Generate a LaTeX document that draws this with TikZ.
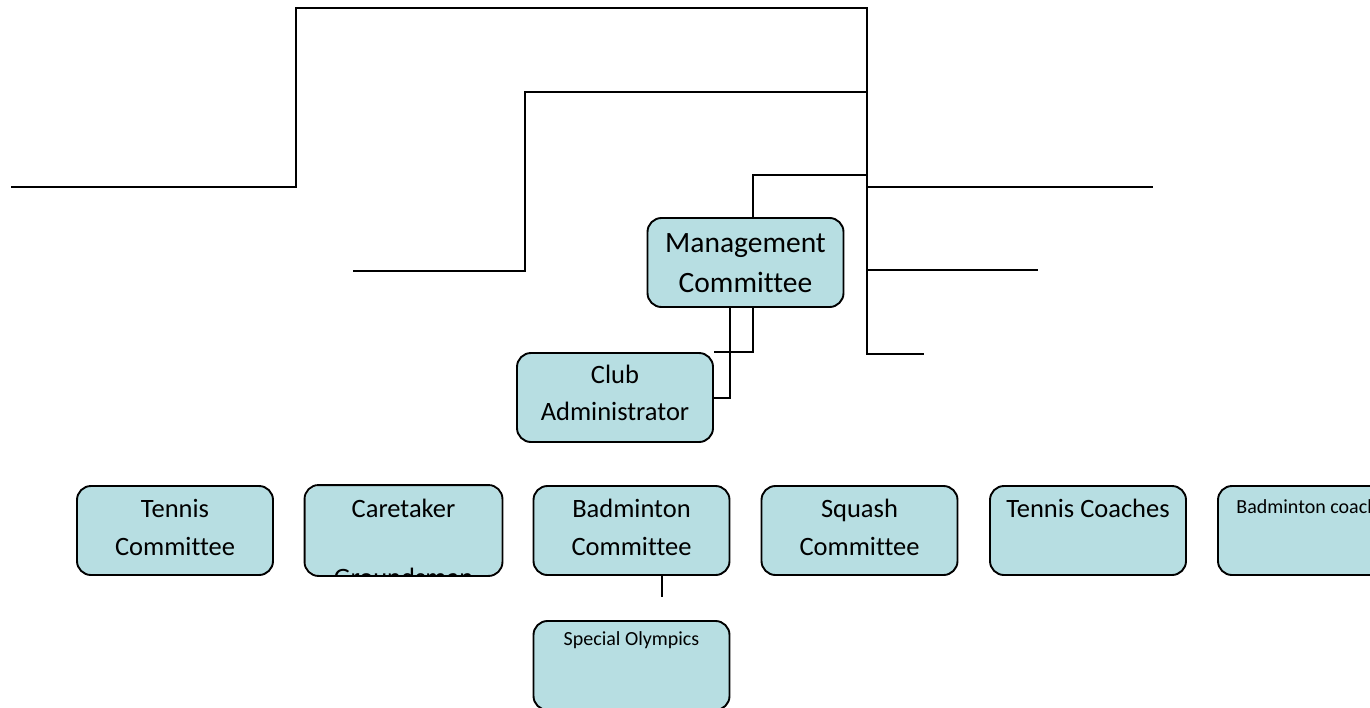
\documentclass[tikz,border=0pt]{standalone}
\usepackage{fontspec}
\setmainfont{Carlito}[Ligatures=NoCommon]
\usetikzlibrary{calc}
\definecolor{boxfill}{RGB}{183,222,226}
\begin{document}
\begin{tikzpicture}[x=1pt,y=-1pt,
  wire/.style={draw=black, line width=2pt},
  box/.style={draw=black, line width=1.9pt, fill=boxfill, rounded corners=14pt,
    minimum width=196pt, minimum height=89pt, inner sep=0pt},
  lbl/.style={inner sep=0pt, align=center, anchor=base},
  big/.style={font=\fontsize{29.5}{40}\selectfont},
  mid/.style={font=\fontsize{26.5}{37}\selectfont},
  std/.style={font=\fontsize{26.5}{38}\selectfont},
  small/.style={font=\fontsize{20}{26}\selectfont}]
\useasboundingbox (0,0) rectangle (1370,707);

% free ends of the upper wiring
\coordinate (w1) at (11,186.5);
\coordinate (w2) at (353,270.5);
\coordinate (e1) at (1153,186.5);
\coordinate (e2) at (1038,270);
\coordinate (e3) at (924,354);
\coordinate (sptop) at (866.5,7.5);
\coordinate (spbot) at (866.5,354);

% upper wiring
\draw[wire] (w1) -- (296,186.5) -- (296,7.5) -- (sptop) -- (spbot) -- (e3);
\draw[wire] (w2) -- (525,270.5) -- (525,92) -- (866.5,92);
\draw[wire] (866.5,186.5) -- (e1);
\draw[wire] (866.5,270) -- (e2);

% boxes
\node[box] (mc)  at (745.5,262.5) {};
\node[box] (ca)  at (615,397.5) {};
\node[box] (tc)  at (175,530.5) {};
\node[box, draw=none] (ct) at (403.5,530.5) {};
\node[box] (bc)  at (631.5,530.5) {};
\node[box] (sc)  at (859.5,530.5) {};
\node[box] (tco) at (1088,530.5) {};
\node[box] (bco) at (1316,530.5) {};
\node[box] (so)  at (631.5,665.5) {};

% connectors
\draw[wire] (mc.north -| 753,0) -- (753,175) -- (866.5,175);
\draw[wire] (mc.south -| 730,0) |- (ca.east);
\draw[wire] (mc.south -| 753,0) |- (ca.north east);
\coordinate (soend) at (662,597);
\draw[wire] (bc.south -| soend) -- (soend);

% labels (base anchor sits on the last line)
\node[lbl,big] (mct) at (745.5,292) {Management\\Committee};
\node[lbl,mid] (cat) at (615,420) {Club\\Administrator};
\node[lbl,std] (tct) at (175,555) {Tennis\\Committee};
\node[lbl,std] (ctt) at (403.5,517) {Caretaker};
% the second caretaker line runs past the box and is cut by its outline
\begin{scope}
  \clip[rounded corners=14pt] (ct.south west) rectangle (ct.north east);
  \node[lbl,std] (ctg) at (403.5,586) {Groundsman};
\end{scope}
\draw[black, line width=1.9pt, rounded corners=14pt] (ct.south west) rectangle (ct.north east);
\node[lbl,std] (bct) at (631.5,555) {Badminton\\Committee};
\node[lbl,std] (sct) at (859.5,555) {Squash\\Committee};
\node[lbl,std] (tcot) at (1088,517) {Tennis Coaches};
\node[lbl,small] (bcot) at (1316,513) {Badminton coaches};
\node[lbl,small] (sot) at (631.5,645) {Special Olympics};
\end{tikzpicture}
\end{document}
